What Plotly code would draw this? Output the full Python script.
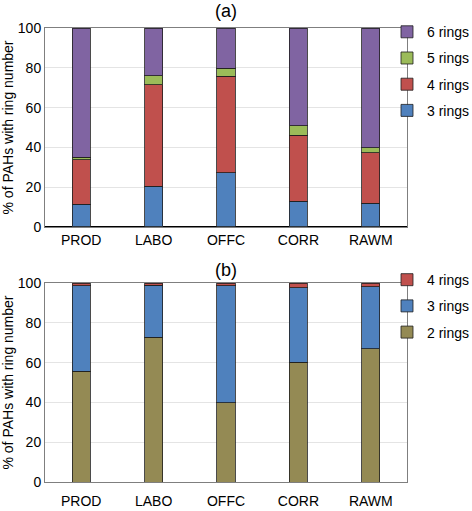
import plotly.graph_objects as go

sites = ["PROD", "LABO", "OFFC", "CORR", "RAWM"]

# panel (a): segment sizes
a_3rings = [11.4, 20.6, 27.3, 12.9, 11.9]
a_4rings = [22.5, 51.0, 48.4, 33.2, 25.5]
a_5rings = [1.2, 4.4, 4.0, 4.7, 2.4]
a_6rings = [64.9, 24.0, 20.3, 49.2, 60.2]

# panel (b)
b_2rings = [55.6, 72.7, 39.9, 60.3, 67.0]
b_3rings = [43.1, 26.3, 58.8, 37.2, 31.2]
b_4rings = [1.3, 1.0, 1.3, 2.5, 1.8]

colors = {
    "2 rings": "#948A54",
    "3 rings": "#4F81BD",
    "4 rings": "#C0504D",
    "5 rings": "#9BBB59",
    "6 rings": "#8064A2",
}

font = "Liberation Sans, Arial, sans-serif"
fig = go.Figure()

def add(name, vals, yaxis, legend, rank):
    fig.add_trace(go.Bar(
        x=sites, y=vals, name=name, width=0.25,
        marker=dict(color=colors[name], line=dict(color="rgba(30,30,30,0.8)", width=1)),
        xaxis="x" if yaxis == "y" else "x2", yaxis=yaxis,
        legend=legend, legendgroup=legend + name, legendrank=rank,
    ))

add("3 rings", a_3rings, "y", "legend", 4)
add("4 rings", a_4rings, "y", "legend", 3)
add("5 rings", a_5rings, "y", "legend", 2)
add("6 rings", a_6rings, "y", "legend", 1)
add("2 rings", b_2rings, "y2", "legend2", 3)
add("3 rings", b_3rings, "y2", "legend2", 2)
add("4 rings", b_4rings, "y2", "legend2", 1)

xcommon = dict(showline=True, linecolor="#7f7f7f", mirror=True, showgrid=False, automargin=False,
               ticks="", tickfont=dict(size=14, color="black"), fixedrange=True)
ycommon = dict(range=[0, 100], dtick=20, showline=True, linecolor="#7f7f7f", mirror=True,
               gridcolor="#e4e4e4", zeroline=True, zerolinecolor="black", zerolinewidth=1,
               tickfont=dict(size=14, color="black"), ticks="", automargin=False,
               title=dict(text="% of PAHs with ring number", font=dict(size=14, color="black"), standoff=6))

# legends hang off the right edge of the figure
leg = dict(xanchor="right", yanchor="top", bgcolor="rgba(0,0,0,0)",
           traceorder="grouped", tracegroupgap=5, font=dict(size=14), itemwidth=30)
leg_x = (475 - 45) / 362

fig.update_layout(
    width=472, height=511,
    margin=dict(l=45, r=65, t=28, b=29, autoexpand=False),
    barmode="stack",
    plot_bgcolor="white", paper_bgcolor="white",
    font=dict(family=font, size=14, color="black"),
    xaxis=dict(domain=[0, 1], anchor="y", **xcommon),
    yaxis=dict(domain=[0.5617, 1], anchor="x", **ycommon),
    xaxis2=dict(domain=[0, 1], anchor="y2", ticklabelstandoff=6, **xcommon),
    yaxis2=dict(domain=[0, 0.4383], anchor="x2", **ycommon),
    legend=dict(x=leg_x, y=1.026, **leg),
    legend2=dict(x=leg_x, y=0.480, **leg),
    showlegend=True,
    annotations=[
        dict(text="(a)", x=0.5, y=1.0374, xref="paper", yref="paper", yanchor="middle",
             showarrow=False, font=dict(size=18)),
        dict(text="(b)", x=0.5, y=0.467, xref="paper", yref="paper", yanchor="middle",
             showarrow=False, font=dict(size=18)),
    ],
)

# drop the default body margin so the figure sits at the page corner
fig.write_html("out.html", config={"displayModeBar": False},
               post_script="document.body.style.margin='0';")
